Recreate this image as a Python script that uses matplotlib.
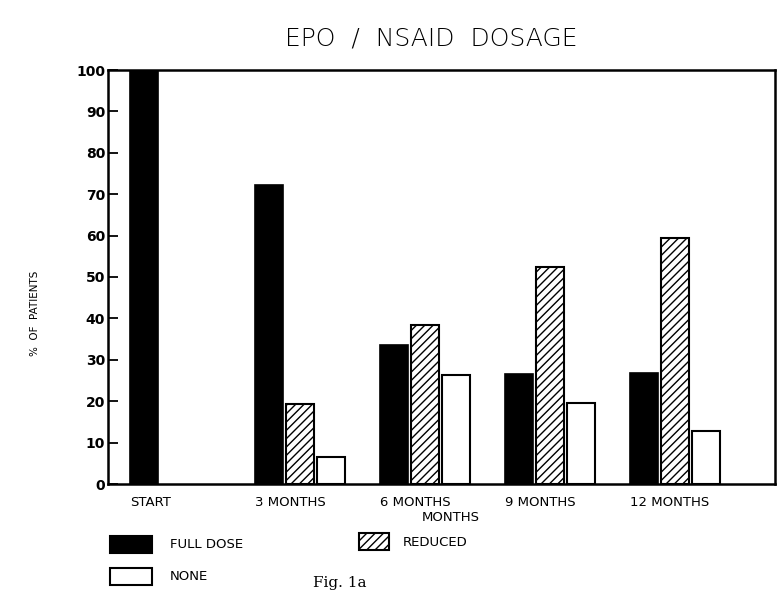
import numpy as np
import matplotlib.pyplot as plt
from matplotlib.patches import Rectangle

# Data
periods = ['START', '3 MONTHS', '6 MONTHS', '9 MONTHS', '12 MONTHS']
full_dose = [100, 72.2, 33.6, 26.6, 26.8]
reduced = [0, 19.3, 38.5, 52.4, 59.5]
none = [0, 6.5, 26.4, 19.6, 12.8]
yticks = list(range(0, 101, 10))

plt.rcParams['font.family'] = 'DejaVu Sans'
plt.rcParams['hatch.linewidth'] = 1.0

fig = plt.figure(figsize=(7.77, 5.92), dpi=100)
ax = fig.add_axes([108 / 777, 1 - 484 / 592, 667 / 777, 414 / 592])

x = np.arange(len(periods))
w = 0.224
step = 0.25


def edge_widths(vals, lw):
    # zero bars leave no outline on the axis
    return [lw if v > 0 else 0 for v in vals]


ax.bar(x - step, full_dose, w, color='black', edgecolor='black',
       linewidth=edge_widths(full_dose, 1.2))
ax.bar(x, reduced, w, color='white', edgecolor='black', hatch='////',
       linewidth=edge_widths(reduced, 1.5))
ax.bar(x + step, none, w, color='white', edgecolor='black',
       linewidth=edge_widths(none, 1.5))

ax.set_xlim(-0.536, 4.8)
ax.set_ylim(0, 100)
ax.set_yticks(yticks)
ax.set_yticklabels([str(t) for t in yticks], fontsize=10, fontweight='semibold')
ax.set_xticks(x - step - w / 2)
ax.set_xticklabels(periods, fontsize=9.5, ha='left')
ax.tick_params(axis='x', length=0, pad=9)
ax.tick_params(axis='y', direction='in', length=7, width=1.3, pad=2)
for s in ax.spines.values():
    s.set_linewidth(1.8)

ax.set_xlabel('MONTHS', fontsize=9.5)
ax.xaxis.set_label_coords((451 - 108) / 667, -0.065)

fig.text(0.045, 0.47, '%  OF  PATIENTS', rotation=90, fontsize=7.5,
         ha='center', va='center')
fig.text(0.555, 0.935, 'EPO  /  NSAID  DOSAGE', fontsize=18,
         fontweight='light', ha='center', va='center')

# legend drawn under the axes
leg = [
    (110, 535, 42, 'black', '', 'FULL DOSE', 170),
    (359, 532, 30, 'white', '////', 'REDUCED', 403),
    (110, 567, 42, 'white', '', 'NONE', 170),
]
for px, py, wpx, fc, hatch, label, tx in leg:
    r = Rectangle((px / 777, 1 - (py + 18) / 592), wpx / 777, 17 / 592,
                  transform=fig.transFigure, facecolor=fc, edgecolor='black',
                  hatch=hatch, linewidth=1.5)
    fig.patches.append(r)
    fig.text(tx / 777, 1 - (py + 10) / 592, label, fontsize=9.5, va='center')

fig.text(340 / 777, 1 - 583 / 592, 'Fig. 1a', family='DejaVu Serif',
         fontsize=11, ha='center', va='center')

fig.savefig('out.png', dpi=100)
